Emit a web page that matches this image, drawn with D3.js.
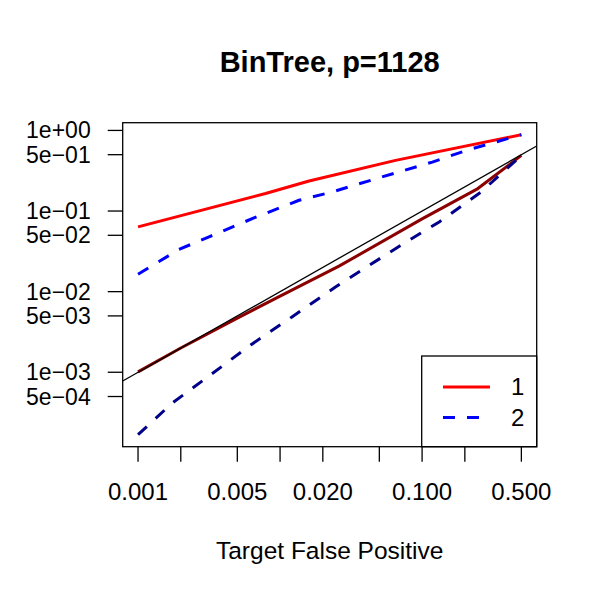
<!DOCTYPE html>
<html>
<head>
<meta charset="utf-8">
<script src="https://cdn.jsdelivr.net/npm/d3@7"></script>
<style>
  body { margin: 0; background: #fff; }
  svg { font-family: "Liberation Sans", Arial, sans-serif; }
  .axis { stroke: #000; stroke-width: 1.3; fill: none; }
  .ticklab { font-size: 24px; fill: #000; }
  .ylab { font-size: 23px; fill: #000; }
</style>
</head>
<body>
<div id="plot"></div>
<script>

// series "1" (red) and "2" (blue): upper curves and lower curves
const x_up1 = [0.001, 0.0079, 0.016, 0.065, 0.5];
const y_up1 = [0.0636, 0.165, 0.236, 0.425, 0.885];

const x_low1 = [0.001, 0.002, 0.005, 0.01, 0.026, 0.1, 0.247, 0.5];
const y_low1 = [0.00101, 0.002, 0.0047, 0.0088, 0.0207, 0.08, 0.19, 0.49];

const x_up2 = [0.001, 0.00194, 0.00316, 0.00655, 0.0136, 0.0232, 0.0474, 0.118, 0.205, 0.5];
const y_up2 = [0.0164, 0.0334, 0.0478, 0.0822, 0.136, 0.172, 0.252, 0.405, 0.565, 0.885];

const x_low2 = [0.001, 0.00174, 0.00324, 0.00621, 0.0122, 0.0247, 0.0653, 0.132, 0.26, 0.5];
const y_low2 = [0.000168, 0.000415, 0.000929, 0.00218, 0.00489, 0.0115, 0.0344, 0.0733, 0.172, 0.49];

const x_ticks = [0.001, 0.002, 0.005, 0.01, 0.02, 0.05, 0.1, 0.2, 0.5];
const x_labels = ["0.001", "", "0.005", "", "0.020", "", "0.100", "", "0.500"];
const y_ticks = [1, 0.5, 0.1, 0.05, 0.01, 0.005, 0.001, 0.0005];
const y_labels = ["1e+00", "5e\u221201", "1e\u221201", "5e\u221202", "1e\u221202", "5e\u221203", "1e\u221203", "5e\u221204"];

const legend_names = ["1", "2"];
const legend_colors = ["#ff0000", "#0000ff"];
const legend_dash = [null, "12,12"];

const title = "BinTree, p=1128";
const xlab = "Target False Positive";

/////////////////////////////////////////////////////////////////////

var W = 600, H = 600;
var mLeft = 122.7, mRight = 536.7, mTop = 122.7, mBottom = 446.7;

var svg = d3.select("#plot").append("svg")
    .attr("width", W)
    .attr("height", H);

// R style 4% extension of the data range, in log space
function logExtent(arr) {
    var lo = Math.log10(d3.min(arr)), hi = Math.log10(d3.max(arr));
    var pad = (hi - lo)*0.04;
    return [Math.pow(10, lo - pad), Math.pow(10, hi + pad)];
};

var allX = x_up1.concat(x_low1, x_up2, x_low2);
var allY = y_up1.concat(y_low1, y_up2, y_low2);

var xScale = d3.scaleLog(logExtent(allX), [mLeft, mRight]);
var yScale = d3.scaleLog(logExtent(allY), [mBottom, mTop]);

svg.append("clipPath").attr("id", "clip")
    .append("rect")
    .attr("x", mLeft).attr("y", mTop)
    .attr("width", mRight - mLeft).attr("height", mBottom - mTop);

var plotArea = svg.append("g").attr("clip-path", "url(#clip)");

var pathLine = d3.line()
    .x(d => xScale(d[0]))
    .y(d => yScale(d[1]));

function addSeries(xs, ys, color, dash) {
    var p = plotArea.append("path")
        .attr("d", pathLine(d3.zip(xs, ys)))
        .attr("fill", "none")
        .attr("stroke", color)
        .attr("stroke-width", 3)
        .attr("stroke-linejoin", "round");
    if (dash) p.attr("stroke-dasharray", dash);
};

addSeries(x_up1, y_up1, "#ff0000", null);
addSeries(x_low1, y_low1, "#8b0000", null);

// reference line y = x
var xd = xScale.domain();
plotArea.append("path")
    .attr("d", pathLine([[xd[0], xd[0]], [xd[1], xd[1]]]))
    .attr("fill", "none")
    .attr("stroke", "#000")
    .attr("stroke-width", 1.3);

addSeries(x_up2, y_up2, "#0000ff", "12,12");
addSeries(x_low2, y_low2, "#00008b", "12,12");

// box
svg.append("rect")
    .attr("x", mLeft).attr("y", mTop)
    .attr("width", mRight - mLeft).attr("height", mBottom - mTop)
    .attr("class", "axis");

// x axis
for (let i = 0; i < x_ticks.length; i++) {
    var tx = xScale(x_ticks[i]);
    svg.append("line")
        .attr("x1", tx).attr("x2", tx)
        .attr("y1", mBottom).attr("y2", mBottom + 15)
        .attr("class", "axis");
    if (x_labels[i] != "") {
        svg.append("text")
            .text(x_labels[i])
            .attr("x", tx)
            .attr("y", mBottom + 53)
            .attr("text-anchor", "middle")
            .attr("class", "ticklab");
    };
};

// y axis
for (let i = 0; i < y_ticks.length; i++) {
    var ty = yScale(y_ticks[i]);
    svg.append("line")
        .attr("x1", mLeft - 15).attr("x2", mLeft)
        .attr("y1", ty).attr("y2", ty)
        .attr("class", "axis");
    svg.append("text")
        .text(y_labels[i])
        .attr("x", mLeft - 32)
        .attr("y", ty)
        .attr("dy", "0.35em")
        .attr("text-anchor", "end")
        .attr("class", "ylab");
};

// title and axis label
svg.append("text")
    .text(title)
    .attr("x", (mLeft + mRight)/2)
    .attr("y", 72)
    .attr("text-anchor", "middle")
    .attr("font-size", "29px")
    .attr("font-weight", "bold");

svg.append("text")
    .text(xlab)
    .attr("x", (mLeft + mRight)/2)
    .attr("y", 559)
    .attr("text-anchor", "middle")
    .attr("font-size", "24.5px");

// legend, bottom right
var lg = svg.append("g");
lg.append("rect")
    .attr("x", 421.7).attr("y", 356)
    .attr("width", mRight - 421.7).attr("height", mBottom - 356)
    .attr("fill", "#fff")
    .attr("class", "axis");

for (let i = 0; i < legend_names.length; i++) {
    var ly = 387 + i*30.5;
    var ln = lg.append("line")
        .attr("x1", 443).attr("x2", 490)
        .attr("y1", ly).attr("y2", ly)
        .attr("stroke", legend_colors[i])
        .attr("stroke-width", 3);
    if (legend_dash[i]) ln.attr("stroke-dasharray", legend_dash[i]);
    lg.append("text")
        .text(legend_names[i])
        .attr("x", 511)
        .attr("y", ly)
        .attr("dy", "0.35em")
        .attr("class", "ticklab");
};

</script>
</body>
</html>
